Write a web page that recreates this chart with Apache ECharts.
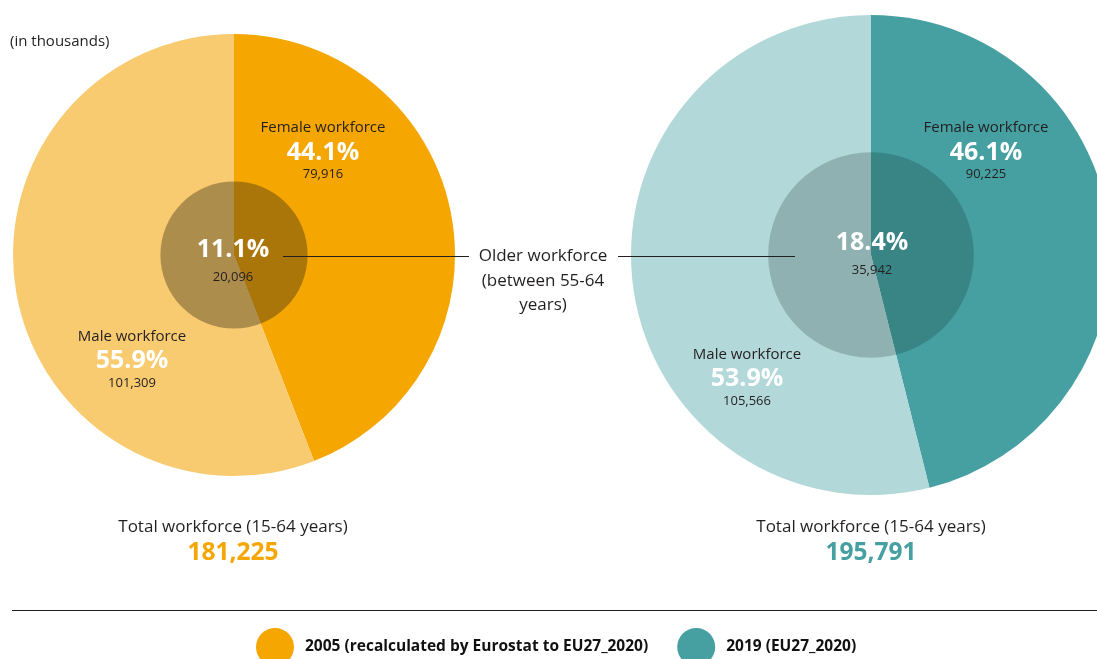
<!DOCTYPE html>
<html>
<head>
<meta charset="utf-8">
<script src="https://cdn.jsdelivr.net/npm/echarts@6/dist/echarts.min.js"></script>
<style>
  html, body { margin: 0; padding: 0; background: #ffffff; }
  #chart { width: 1097px; height: 659px; }
</style>
</head>
<body>
<div id="chart"></div>
<script>
// Workforce composition, EU27_2020 (in thousands)
const years = ['2005 (recalculated by Eurostat to EU27_2020)', '2019 (EU27_2020)'];
const femaleWorkforce = [79916, 90225];
const maleWorkforce = [101309, 105566];
const olderWorkforce = [20096, 35942];
const totalWorkforce = [181225, 195791];
const femaleShare = [44.1, 46.1];
const maleShare = [55.9, 53.9];
const olderShare = [11.1, 18.4];

// Styling per panel
const FONT = '"Open Sans", "Noto Sans", sans-serif';
const TEXT = '#231f20';
const femaleColors = ['#f5a600', '#46a0a2'];
const maleColors = ['#f8cb70', '#b3d8d9'];
const overlayColors = ['rgba(60, 48, 22, 0.40)', 'rgba(10, 35, 35, 0.21)'];
const centers = [[234, 255], [871, 255]];
const radii = [221, 240];
const labelPos = [
  { female: [323, 128], male: [132, 337], older: [233, 250], total: [233, 527] },
  { female: [986, 128], male: [747, 355], older: [872, 243], total: [871, 527] }
];

const fmt = v => v.toLocaleString('en-US');
const pct = v => v.toFixed(1) + '%';

const series = [];
const graphic = [];

years.forEach((year, i) => {
  // Whole workforce split by sex
  series.push({
    name: year,
    type: 'pie',
    center: centers[i],
    radius: radii[i],
    startAngle: 90,
    clockwise: true,
    silent: true,
    label: { show: false },
    labelLine: { show: false },
    itemStyle: { borderWidth: 0 },
    emphasis: { disabled: true },
    data: [
      { name: 'Female workforce', value: femaleWorkforce[i], itemStyle: { color: femaleColors[i] } },
      { name: 'Male workforce', value: maleWorkforce[i], itemStyle: { color: maleColors[i] } }
    ]
  });
  // Older workforce as a translucent disc, area proportional to its share
  series.push({
    name: 'Older workforce ' + i,
    type: 'pie',
    center: centers[i],
    radius: radii[i] * Math.sqrt(olderWorkforce[i] / totalWorkforce[i]),
    silent: true,
    label: { show: false },
    labelLine: { show: false },
    itemStyle: { borderWidth: 0, color: overlayColors[i] },
    emphasis: { disabled: true },
    data: [{ name: 'Older workforce', value: olderWorkforce[i] }]
  });

  const p = labelPos[i];
  const txt = (x, y, text, size, weight, fill) => graphic.push({
    type: 'text', z: 100, silent: true,
    style: { x, y, text, fill, font: weight + ' ' + size + 'px ' + FONT, align: 'center', verticalAlign: 'middle' }
  });
  txt(p.female[0], p.female[1], 'Female workforce', 15, 'normal', TEXT);
  txt(p.female[0], p.female[1] + 25, pct(femaleShare[i]), 25, 'bold', '#ffffff');
  txt(p.female[0], p.female[1] + 46, fmt(femaleWorkforce[i]), 13, 'normal', TEXT);
  txt(p.male[0], p.male[1], 'Male workforce', 15, 'normal', TEXT);
  txt(p.male[0], p.male[1] + 24, pct(maleShare[i]), 25, 'bold', '#ffffff');
  txt(p.male[0], p.male[1] + 46, fmt(maleWorkforce[i]), 13, 'normal', TEXT);
  txt(p.older[0], p.older[1], pct(olderShare[i]), 25, 'bold', '#ffffff');
  txt(p.older[0], p.older[1] + 27, fmt(olderWorkforce[i]), 13, 'normal', TEXT);
  txt(p.total[0], p.total[1], 'Total workforce (15-64 years)', 17, 'normal', TEXT);
  txt(p.total[0], p.total[1] + 26, fmt(totalWorkforce[i]), 24.5, 'bold', femaleColors[i]);
});

// Unit note
graphic.push({
  type: 'text', z: 100, silent: true,
  style: { x: 10, y: 42, text: '(in thousands)', fill: TEXT, font: 'normal 15px ' + FONT, verticalAlign: 'middle' }
});

// Shared caption for the older-workforce discs with leader lines
graphic.push({
  type: 'text', z: 100, silent: true,
  style: {
    x: 543, y: 244, text: 'Older workforce\n(between 55-64\nyears)', fill: TEXT,
    font: 'normal 17px ' + FONT, align: 'center', verticalAlign: 'top', lineHeight: 24.5
  }
});
graphic.push({
  type: 'line', z: 99, silent: true,
  shape: { x1: 283, y1: 256.5, x2: 469, y2: 256.5 },
  style: { stroke: '#231f20', lineWidth: 1 }
});
graphic.push({
  type: 'line', z: 99, silent: true,
  shape: { x1: 618, y1: 256.5, x2: 795, y2: 256.5 },
  style: { stroke: '#231f20', lineWidth: 1 }
});

// Separator above the legend
graphic.push({
  type: 'line', z: 99, silent: true,
  shape: { x1: 12, y1: 610.5, x2: 1097, y2: 610.5 },
  style: { stroke: '#231f20', lineWidth: 1.2 }
});

const chart = echarts.init(document.getElementById('chart'), null, { renderer: 'canvas' });
chart.setOption({
  animation: false,
  backgroundColor: '#ffffff',
  legend: {
    left: 251,
    top: 623,
    icon: 'circle',
    itemWidth: 38,
    itemHeight: 38,
    itemGap: 29,
    selectedMode: false,
    textStyle: {
      fontFamily: FONT, fontWeight: 'bold', fontSize: 15.5, color: '#111111',
      padding: [0, 0, 0, 6]
    },
    data: years.map((y, i) => ({ name: y, itemStyle: { color: femaleColors[i] } }))
  },
  series,
  graphic
});
</script>
</body>
</html>
